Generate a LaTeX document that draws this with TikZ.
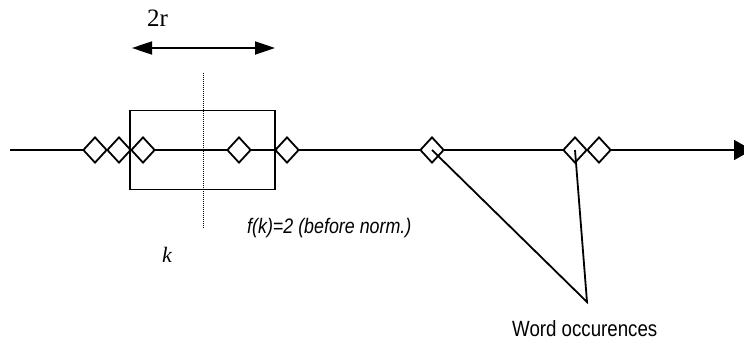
\documentclass[tikz,border=0pt]{standalone}
\usepackage{fontspec}
\setmainfont{Liberation Serif}
\newfontfamily\narrowsans[FakeStretch=0.85]{Liberation Sans}
\usetikzlibrary{shapes.geometric,arrows.meta}
\tikzset{
  occ/.style={draw, shape=diamond, fill=white, line width=1.8pt, minimum width=24pt, minimum height=26pt, inner sep=0pt},
  axis/.style={line width=1.8pt},
  lbl/.style={inner sep=0pt, anchor=base west},
}
\begin{document}
\begin{tikzpicture}[x=1pt,y=-1pt]
\clip (0,0) rectangle (744,340);
\useasboundingbox (0,0) rectangle (744,340);
% main axis
\coordinate (start) at (10,150);
\coordinate (end) at (752,150);
\draw[axis, -{Triangle[length=18pt,width=20pt]}] (start) -- (end);
% window
\node[draw, line width=1.8pt, minimum width=145pt, minimum height=79pt, inner sep=0pt] (win) at (202.5,150) {};
% dotted centre line
\coordinate (dtop) at (203,73);
\coordinate (dbot) at (203,228);
\draw[line width=1pt, dash pattern=on 1pt off 1pt] (dtop) -- (dbot);
% 2r arrow
\coordinate (ra) at (132,48);
\coordinate (rb) at (275,48);
\draw[line width=1.8pt, {Triangle[length=20pt,width=13pt]}-{Triangle[length=20pt,width=13pt]}] (ra) -- (rb);
\node[lbl, font=\fontsize{25}{25}\selectfont] (tr) at (147,27) {2r};
% diamonds
\node[occ] (d1) at (95,150) {};
\node[occ] (d2) at (119,150) {};
\node[occ] (d3) at (143,150) {};
\node[occ] (d4) at (239,150) {};
\node[occ] (d5) at (287,150) {};
\node[occ] (d6) at (432,150) {};
\node[occ] (d7) at (575,150) {};
\node[occ] (d8) at (599,150) {};
% pointers
\coordinate (tip) at (587,302);
\draw[line width=1.8pt] (d6.center) -- (tip) -- (d7.center);
% labels
\node[lbl, font=\narrowsans\fontsize{22}{22}\selectfont] (wo) at (512,336) {Word occurences};
\node[lbl, font=\narrowsans\itshape\fontsize{21}{21}\selectfont] (fk) at (247,233) {f(k)=2 (before norm.)};
\node[lbl, font=\itshape\fontsize{22}{22}\selectfont] (k) at (162,262) {k};
\end{tikzpicture}
\end{document}
